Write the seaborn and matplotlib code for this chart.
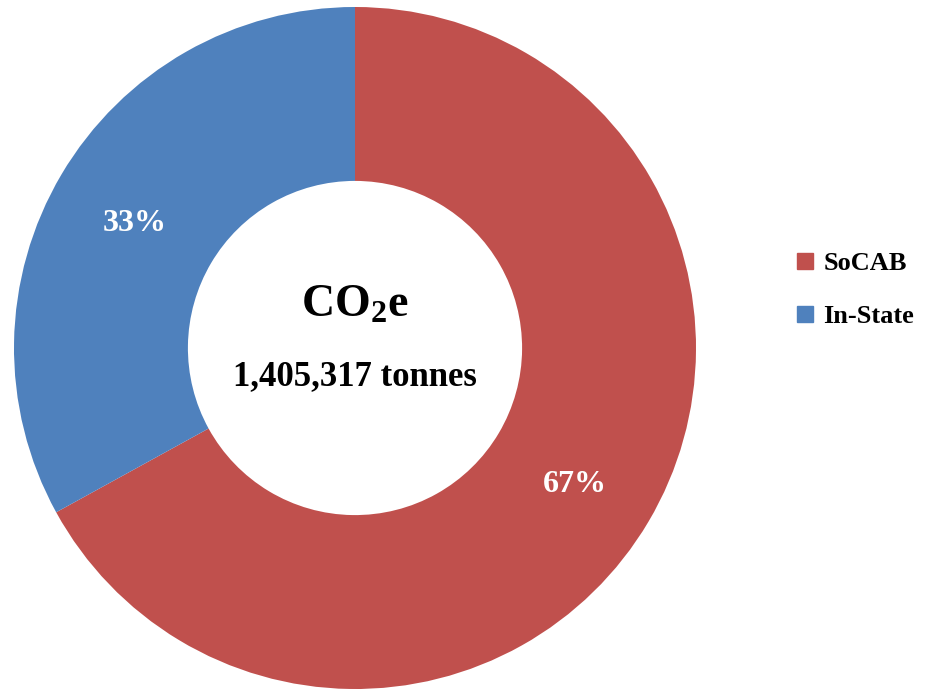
import matplotlib.pyplot as plt
import seaborn as sns
from matplotlib.lines import Line2D

labels = ["SoCAB", "In-State"]
shares = [67, 33]
colors = ["#C0504D", "#4F81BD"]
center_title = r"$\mathbf{CO_2e}$"
center_total = "1,405,317 tonnes"

sns.set_theme(style="white")
plt.rcParams["font.family"] = ["Liberation Serif", "DejaVu Serif"]
plt.rcParams["mathtext.fontset"] = "custom"
plt.rcParams["mathtext.rm"] = "Liberation Serif"
plt.rcParams["mathtext.bf"] = "Liberation Serif:bold"

fig = plt.figure(figsize=(9.34, 6.9), dpi=100)
ax = fig.add_axes([14 / 934, 1 / 690, 682 / 934, 682 / 690])

wedges, texts, autotexts = ax.pie(
    shares, colors=colors, startangle=90, counterclock=False,
    autopct="%.0f%%", pctdistance=0.75,
    wedgeprops=dict(width=0.51, linewidth=0),
    textprops=dict(color="white", fontsize=23, fontweight="bold"),
)
# nudge the percent labels down a touch (bbox centring sits high)
for t in autotexts:
    x, y = t.get_position()
    t.set_position((x, y - 0.018))

ax.set_xlim(-1, 1)
ax.set_ylim(-1, 1)
ax.set_aspect("equal")
ax.axis("off")

ax.text(0, 0.125, center_title, ha="center", va="center",
        fontsize=33, color="black")
ax.text(0, -0.085, center_total, ha="center", va="center",
        fontsize=25, fontweight="bold", color="black")

handles = [Line2D([0], [0], marker="s", linestyle="", markersize=11.5,
                  markerfacecolor=c, markeredgecolor=c) for c in colors]
leg = fig.legend(handles, labels, loc="center left",
                 bbox_to_anchor=(772 / 934, 1 - 290 / 690), frameon=False,
                 handlelength=0.7, handletextpad=0.35, labelspacing=1.1,
                 prop=dict(size=19, weight="bold"), labelcolor="black")

fig.savefig("out.png", dpi=100)
